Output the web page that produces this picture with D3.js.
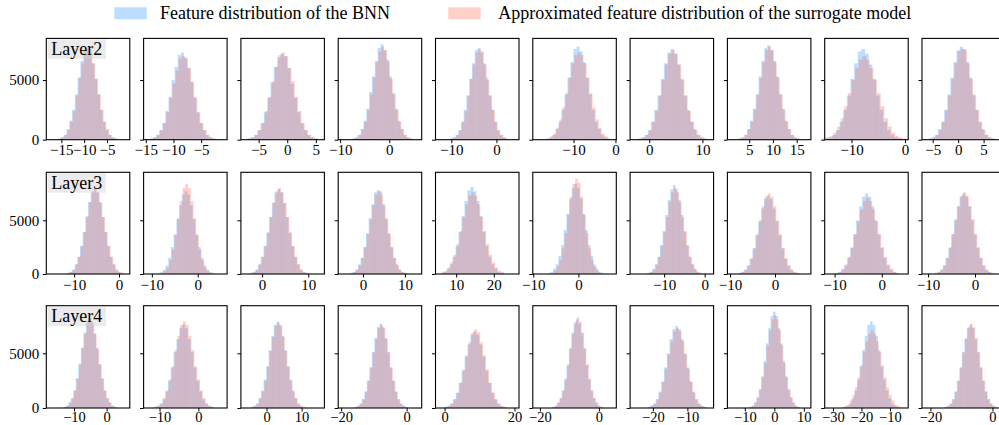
<!DOCTYPE html>
<html>
<head>
<meta charset="utf-8">
<script src="https://cdnjs.cloudflare.com/ajax/libs/d3/7.8.5/d3.min.js"></script>
<style>
  body { margin: 0; background: #fff; }
  svg text { font-family: 'Liberation Serif', 'Times New Roman', serif; }
</style>
</head>
<body>
<div id="chart"></div>
<script>
var layerNames = ['Layer2', 'Layer3', 'Layer4'];
var legendLabels = ['Feature distribution of the BNN', 'Approximated feature distribution of the surrogate model'];
var yMax = [8490, 9470, 9350];
var yTicks = [0, 5000];

// 30 panels, row by row (10 per row)
var xDomains = [
  [-18.3, 0.0], [-15.4, -0.3], [-8.1, 6.5], [-10.4, 6.6], [-13.5, 5.0], [-19.7, 0.2], [-3.6, 12.1], [0.4, 18.0], [-15.0, 0.6], [-7.1, 9.3],
  [-16.2, 2.4], [-11.8, 6.4], [-4.6, 13.5], [-5.9, 14.0], [4.5, 26.7], [-10.1, 8.4], [-18.4, 2.2], [-10.6, 8.0], [-12.1, 5.6], [-11.3, 6.5],
  [-18.5, 7.1], [-14.1, 7.4], [-7.3, 16.5], [-20.9, 4.6], [-2.6, 21.3], [-22.4, 5.9], [-26.6, -2.4], [-15.9, 12.4], [-32.9, -3.6], [-22.7, 4.2]
];
var xTicks = [
  [-15, -10, -5], [-15, -10, -5], [-5, 0, 5], [-10, 0], [-10, 0], [-10, 0], [0, 10], [5, 10, 15], [-10, 0], [-5, 0, 5],
  [-10, 0], [-10, 0], [0, 10], [0, 10], [10, 20], [-10, 0], [-10, 0], [-10, 0], [-10, 0], [-10, 0],
  [-10, 0], [-10, 0], [0, 10], [-20, 0], [0, 20], [-20, 0], [-20, -10], [-10, 0, 10], [-30, -20, -10], [-20, 0]
];
var binWidths = [
  0.61, 0.56, 0.58, 0.58, 0.61, 0.72, 0.61, 0.61, 0.68, 0.61,
  0.60, 0.59, 0.60, 0.64, 0.79, 0.59, 0.64, 0.64, 0.64, 0.60,
  0.77, 0.73, 0.73, 0.77, 0.84, 0.81, 0.81, 0.81, 0.92, 0.81
];
var bnnStart = [
  -16.31, -14.82, -7.56, -8.16, -10.91, -17.19, -2.71, 2.09, -15.62, -6.41,
  -12.29, -9.37, -3.29, -3.76, 5.10, -7.37, -14.86, -8.86, -10.56, -9.29,
  -14.07, -12.21, -5.21, -16.77, -0.99, -16.64, -22.44, -9.34, -27.12, -16.34
];
var surStart = [
  -16.12, -14.66, -7.38, -7.98, -10.72, -16.97, -2.52, 2.28, -15.42, -6.22,
  -12.11, -9.20, -3.11, -3.56, 5.33, -7.20, -14.66, -8.66, -10.36, -9.11,
  -13.84, -11.99, -4.99, -16.54, -0.73, -16.39, -22.19, -9.09, -26.84, -16.09
];

// counts per bin, in hundreds
var bnnCounts = [
  [0,1,2,4,9,16,25,38,52,66,74,78,76,64,51,38,25,15,8,4,2,1,0],
  [0,1,2,4,8,14,24,36,50,61,71,73,69,60,49,36,23,14,8,4,2,1,0],
  [0,1,2,4,8,14,23,35,48,61,69,72,70,60,47,35,23,14,8,4,2,1,0],
  [0,1,2,4,9,16,26,40,53,66,77,80,75,67,53,39,26,16,9,4,2,1,0],
  [0,1,2,4,8,15,25,37,51,64,75,77,73,64,52,37,25,15,8,4,2,1,0],
  [0,1,2,4,9,15,25,38,52,65,76,78,74,65,52,38,25,15,9,4,2,1,0],
  [0,1,2,4,8,15,25,37,51,64,73,76,72,63,51,37,25,15,9,4,2,1,0],
  [0,1,2,4,9,16,26,38,53,66,77,79,75,66,53,38,26,16,9,4,2,1,0],
  [0,1,2,4,8,15,25,37,51,64,74,76,72,63,51,37,25,15,8,4,2,1,0],
  [0,1,2,4,9,15,25,38,52,65,75,78,76,65,52,38,25,15,9,4,2,1,0],

  [0,1,2,4,9,16,26,39,53,67,76,80,76,67,53,39,26,16,9,4,2,1,0],
  [0,1,2,4,8,15,25,37,51,64,74,77,74,64,51,37,25,15,8,4,2,1,0],
  [0,1,2,4,9,16,26,38,53,66,76,79,76,66,53,38,26,16,9,4,2,1,0],
  [0,1,2,4,9,15,25,38,52,65,76,78,77,65,52,38,25,15,9,4,2,1,0],
  [0,1,2,5,9,16,26,39,54,68,78,81,77,68,54,39,26,16,9,5,2,1,0],
  [0,1,2,5,9,17,27,41,56,70,80,84,80,70,56,41,27,17,9,5,2,1,0],
  [0,1,2,5,9,16,27,40,55,69,79,83,79,69,55,40,27,16,9,5,2,1,0],
  [0,1,2,4,8,14,24,36,49,61,70,73,70,61,49,36,24,14,8,4,2,1,0],
  [0,1,2,4,8,15,24,37,50,63,72,75,72,63,50,37,24,15,8,4,2,1,0],
  [0,1,2,4,8,15,24,37,50,63,72,75,72,63,50,37,24,15,8,4,2,1,0],

  [0,1,2,5,9,16,27,40,55,68,78,82,78,68,55,40,27,16,9,5,2,1,0],
  [0,1,2,4,8,15,25,37,51,63,73,76,73,63,51,37,25,15,8,4,2,1,0],
  [0,1,2,4,9,16,26,38,53,66,76,79,76,66,53,38,26,16,9,4,2,1,0],
  [0,1,2,4,8,15,25,37,51,64,74,77,74,64,51,37,25,15,8,4,2,1,0],
  [0,1,2,4,8,14,23,34,47,58,67,70,67,58,47,34,23,14,8,4,2,1,0],
  [0,1,2,5,9,16,26,39,54,68,77,81,77,68,54,39,26,16,9,5,2,1,0],
  [0,1,2,4,8,15,24,37,50,63,72,75,72,63,50,37,24,15,8,4,2,1,0],
  [0,1,2,5,10,17,29,43,59,73,84,88,84,73,59,43,29,17,10,5,2,1,0],
  [0,1,2,4,9,16,26,38,53,66,76,79,76,66,53,38,26,16,9,4,2,1,0],
  [0,1,2,4,8,15,25,37,51,63,73,76,73,63,51,37,25,15,8,4,2,1,0]
];
var surCounts = [
  [0,1,2,4,8,15,24,37,52,64,75,77,73,64,51,38,25,15,9,4,2,1,0],
  [0,1,2,4,8,14,23,35,47,58,68,70,68,60,48,35,23,14,8,4,2,1,0],
  [0,1,2,4,8,14,24,36,49,61,71,73,70,60,49,36,24,14,8,4,2,1,0],
  [0,1,2,4,9,15,25,38,52,65,74,78,75,65,51,38,25,15,9,4,2,1,0],
  [0,1,2,4,8,15,24,37,51,63,73,76,74,63,50,37,25,15,8,4,2,1,0],
  [0,1,3,5,10,17,27,39,52,64,71,73,71,64,52,39,27,17,10,5,3,1,0],
  [0,1,2,4,8,15,24,37,50,63,72,75,72,63,50,37,24,15,8,4,2,1,0],
  [0,1,2,4,9,15,25,38,52,65,75,78,75,65,52,38,25,15,9,4,2,1,0],
  [1,2,3,6,11,18,28,39,50,60,67,70,67,60,50,39,28,18,11,6,3,2,1],
  [0,1,2,4,8,15,25,37,51,64,74,76,75,64,51,37,25,15,8,4,2,1,0],

  [0,1,2,4,9,16,26,39,54,67,77,80,76,66,53,39,26,16,9,4,2,1,0],
  [0,0,1,3,6,13,23,36,52,68,80,84,80,68,52,36,23,13,6,3,1,0,0],
  [0,1,2,4,9,16,26,39,53,67,77,80,76,66,53,39,26,16,9,4,2,1,0],
  [0,1,2,4,8,15,25,37,51,64,74,77,74,64,51,37,25,15,8,4,2,1,0],
  [0,2,3,6,11,18,28,40,53,65,73,76,73,65,53,40,28,18,11,6,3,2,0],
  [0,0,1,3,7,13,24,38,55,72,84,89,85,72,55,38,24,13,7,3,1,0,0],
  [0,1,2,4,9,16,26,39,53,67,76,80,76,67,53,39,26,16,9,4,2,1,0],
  [0,1,2,4,8,15,24,37,50,63,72,75,72,63,50,37,24,15,8,4,2,1,0],
  [0,1,2,5,9,16,25,37,49,60,68,71,68,60,49,37,25,16,9,5,2,1,0],
  [0,1,2,4,8,15,25,37,51,63,73,76,73,63,51,37,25,15,8,4,2,1,0],

  [0,1,2,5,9,16,27,40,55,69,79,82,78,68,54,40,27,16,9,5,2,1,0],
  [0,1,2,4,9,16,26,38,53,66,76,79,76,66,53,38,26,16,9,4,2,1,0],
  [0,1,2,4,9,15,25,38,52,65,75,78,75,65,52,38,25,15,9,4,2,1,0],
  [0,1,2,4,8,15,25,37,51,63,73,76,73,63,51,37,25,15,8,4,2,1,0],
  [0,1,2,4,8,14,23,35,48,60,69,72,69,60,48,35,23,14,8,4,2,1,0],
  [0,1,2,5,9,16,27,40,55,69,79,83,79,69,55,40,27,16,9,5,2,1,0],
  [0,1,2,4,8,14,24,36,49,61,70,73,70,61,49,36,24,14,8,4,2,1,0],
  [0,1,2,5,9,17,28,41,57,71,81,85,81,71,57,41,28,17,9,5,2,1,0],
  [1,2,3,7,12,19,28,39,51,61,68,71,68,61,51,39,28,19,12,7,3,2,1],
  [0,1,2,4,8,15,25,37,51,64,74,77,74,64,51,37,25,15,8,4,2,1,0]
];

var W = 999, H = 425;
var colLeft = 46.3, colStep = 97.3, panelW = 83.5;
var rowTop = [38.4, 172.3, 305.7];
var rowBottom = [139.7, 274, 408];
var blue = 'rgba(30,144,255,0.3)';
var red = 'rgba(255,99,71,0.3)';
var serif = 'Liberation Serif';

var svg = d3.select('#chart').append('svg')
  .attr('width', W)
  .attr('height', H);

// legend
var legendX = [[114.3, 160], [448.3, 498.3]];
[blue, red].forEach(function(c, i) {
  svg.append('rect')
    .attr('x', legendX[i][0]).attr('y', 7.3)
    .attr('width', 32.4).attr('height', 12)
    .attr('fill', c);
  svg.append('text')
    .attr('x', legendX[i][1]).attr('y', 18.6)
    .style('font-family', serif)
    .style('font-size', '18px')
    .attr('fill', '#000')
    .text(legendLabels[i]);
});

function drawBars(g, x, y, start, w, counts, color, bottom) {
  // keep the bin index with the value so empty bins can be dropped
  var bins = counts.map(function(v, i) { return {i: i, v: v}; })
    .filter(function(d) { return d.v > 0; });
  g.selectAll(null)
    .data(bins)
    .enter().append('rect')
    .attr('x', function(d) { return x(start + d.i * w); })
    .attr('width', function(d) { return x(start + (d.i + 1) * w) - x(start + d.i * w); })
    .attr('y', function(d) { return y(d.v * 100); })
    .attr('height', function(d) { return bottom - y(d.v * 100); })
    .attr('fill', color);
}

for (var r = 0; r < 3; r++) {
  // bottom row sits right at the page edge, so its labels are a touch tighter
  var lastRow = (r == 2);
  for (var c = 0; c < 10; c++) {
    var k = r * 10 + c;
    var left = colLeft + c * colStep;
    var x = d3.scaleLinear().domain(xDomains[k]).range([left, left + panelW]);
    var y = d3.scaleLinear().domain([0, yMax[r]]).range([rowBottom[r], rowTop[r]]);
    var g = svg.append('g');

    drawBars(g, x, y, bnnStart[k], binWidths[k], bnnCounts[k], blue, rowBottom[r]);
    drawBars(g, x, y, surStart[k], binWidths[k], surCounts[k], red, rowBottom[r]);

    var xa = g.append('g')
      .attr('transform', 'translate(0,' + rowBottom[r] + ')')
      .call(d3.axisBottom(x).tickValues(xTicks[k]).tickSize(3.5)
        .tickPadding(lastRow ? 0.3 : 1.5).tickSizeOuter(0));
    var ya = g.append('g')
      .attr('transform', 'translate(' + left + ',0)')
      .call(d3.axisLeft(y).tickValues(yTicks).tickSize(3.5).tickPadding(3.5).tickSizeOuter(0)
        .tickFormat(c == 0 ? d3.format('d') : function() { return ''; }));
    [xa, ya].forEach(function(a) {
      a.select('.domain').remove();
      a.selectAll('line').attr('stroke', '#000').attr('stroke-width', 1);
      a.selectAll('text')
        .style('font-family', serif)
        .style('font-size', '15px')
        .attr('fill', '#000');
    });
    if (lastRow) {
      xa.selectAll('text').style('font-size', '14.5px').attr('dy', '0.69em');
    }

    // frame
    g.append('rect')
      .attr('x', left).attr('y', rowTop[r])
      .attr('width', panelW).attr('height', rowBottom[r] - rowTop[r])
      .attr('fill', 'none')
      .attr('stroke', '#000')
      .attr('stroke-width', 1.1);

    if (c == 0) {
      g.append('rect')
        .attr('x', left + 1.4).attr('y', rowTop[r] + 1)
        .attr('width', 58.3).attr('height', 19.4)
        .attr('fill', '#d3d3d3')
        .attr('fill-opacity', 0.45);
      g.append('text')
        .attr('x', left + 4.9).attr('y', rowTop[r] + 16.3)
        .style('font-family', serif)
        .style('font-size', '18px')
        .attr('fill', '#000')
        .text(layerNames[r]);
    }
  }
}
</script>
</body>
</html>
